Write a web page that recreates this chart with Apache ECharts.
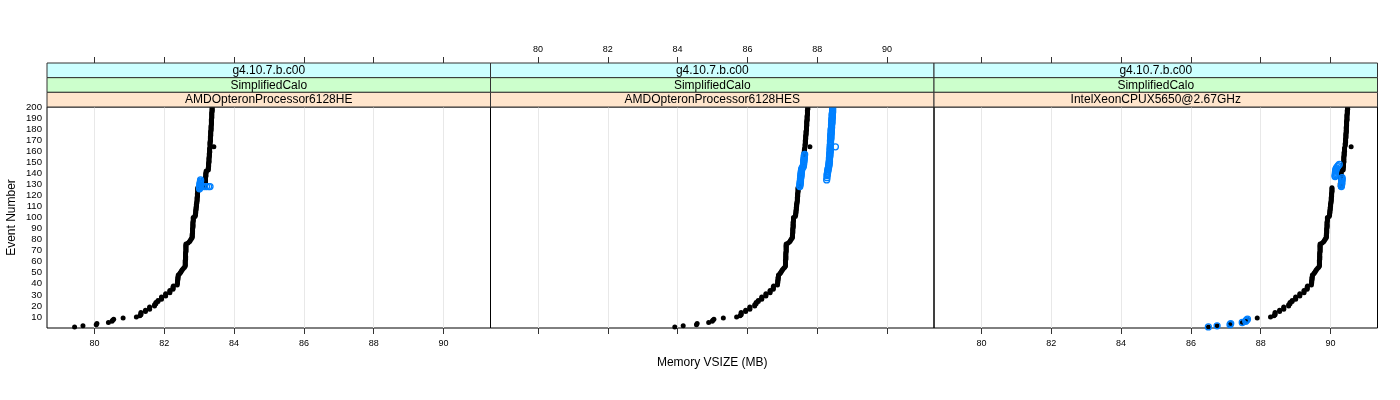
<!DOCTYPE html>
<html><head><meta charset="utf-8">
<script src="https://cdn.jsdelivr.net/npm/echarts@6/dist/echarts.min.js"></script>
<style>html,body{margin:0;padding:0;background:#fff}#c{width:1400px;height:400px}</style>
</head><body><div id="c"></div>
<script>
// ---------------- data ----------------
const stripOuter = ['g4.10.7.b.c00', 'g4.10.7.b.c00', 'g4.10.7.b.c00'];
const stripMiddle = ['SimplifiedCalo', 'SimplifiedCalo', 'SimplifiedCalo'];
const stripInner = ['AMDOpteronProcessor6128HE', 'AMDOpteronProcessor6128HES', 'IntelXeonCPUX5650@2.67GHz'];
const xTicks = [80, 82, 84, 86, 88, 90];
const yTicks = [10,20,30,40,50,60,70,80,90,100,110,120,130,140,150,160,170,180,190,200];
const xTitle = 'Memory VSIZE (MB)';
const yTitle = 'Event Number';

// memory VSIZE (MB) of the black series for events 1..200, one list per panel
const blackHE = [
 79.43,79.67,80.05,80.07,80.40,80.50,80.52,80.55,80.82,81.20,
 81.30,81.33,81.33,81.33,81.46,81.46,81.58,81.58,81.58,81.72,
 81.72,81.76,81.76,81.82,81.82,81.92,81.92,81.92,82.04,82.04,
 82.04,82.16,82.16,82.16,82.25,82.25,82.25,82.26,82.37,82.37,
 82.38,82.38,82.38,82.39,82.39,82.39,82.40,82.40,82.44,82.46,
 82.48,82.50,82.52,82.55,82.58,82.60,82.60,82.60,82.60,82.60,
 82.60,82.61,82.61,82.61,82.61,82.61,82.61,82.61,82.62,82.62,
 82.62,82.62,82.62,82.62,82.62,82.62,82.68,82.72,82.74,82.76,
 82.78,82.80,82.80,82.80,82.80,82.81,82.81,82.81,82.81,82.81,
 82.82,82.82,82.82,82.82,82.82,82.82,82.83,82.83,82.83,82.83,
 82.88,82.89,82.89,82.90,82.90,82.90,82.91,82.91,82.91,82.92,
 82.92,82.92,82.93,82.93,82.94,82.94,82.94,82.94,82.95,82.95,
 82.95,82.95,82.96,82.96,82.96,82.96,82.96,83.17,83.17,83.17,
 83.17,83.18,83.18,83.18,83.18,83.18,83.19,83.19,83.19,83.19,
 83.20,83.20,83.26,83.26,83.26,83.27,83.27,83.27,83.27,83.28,
 83.28,83.28,83.28,83.28,83.29,83.29,83.29,83.29,83.30,83.30,
 83.30,83.30,83.30,83.42,83.31,83.31,83.31,83.31,83.32,83.32,
 83.32,83.32,83.32,83.33,83.33,83.33,83.33,83.33,83.34,83.34,
 83.34,83.34,83.34,83.35,83.35,83.35,83.35,83.35,83.35,83.36,
 83.36,83.36,83.36,83.36,83.36,83.37,83.37,83.37,83.37,83.37
];
const blackHES = [
 83.92,84.16,84.54,84.56,84.89,84.99,85.01,85.04,85.31,85.69,
 85.79,85.82,85.82,85.82,85.95,85.95,86.07,86.07,86.07,86.21,
 86.21,86.25,86.25,86.31,86.31,86.41,86.41,86.41,86.53,86.53,
 86.53,86.65,86.65,86.65,86.74,86.74,86.74,86.75,86.86,86.86,
 86.87,86.87,86.87,86.88,86.88,86.88,86.89,86.89,86.93,86.95,
 86.97,86.99,87.01,87.04,87.07,87.09,87.09,87.09,87.09,87.09,
 87.09,87.10,87.10,87.10,87.10,87.10,87.10,87.10,87.11,87.11,
 87.11,87.11,87.11,87.11,87.11,87.11,87.17,87.21,87.23,87.25,
 87.27,87.29,87.29,87.29,87.29,87.30,87.30,87.30,87.30,87.30,
 87.31,87.31,87.31,87.31,87.31,87.31,87.32,87.32,87.32,87.32,
 87.37,87.38,87.38,87.39,87.39,87.39,87.40,87.40,87.40,87.41,
 87.41,87.41,87.42,87.42,87.43,87.43,87.43,87.43,87.44,87.44,
 87.44,87.44,87.45,87.45,87.45,87.45,87.45,87.52,87.52,87.52,
 87.52,87.53,87.53,87.53,87.53,87.54,87.54,87.54,87.54,87.55,
 87.55,87.55,87.56,87.58,87.58,87.59,87.59,87.59,87.60,87.60,
 87.60,87.60,87.61,87.61,87.61,87.61,87.62,87.62,87.63,87.63,
 87.63,87.64,87.64,87.79,87.65,87.65,87.66,87.66,87.66,87.66,
 87.67,87.67,87.67,87.67,87.68,87.68,87.68,87.68,87.69,87.69,
 87.69,87.69,87.70,87.70,87.70,87.70,87.70,87.71,87.71,87.71,
 87.71,87.71,87.72,87.72,87.72,87.72,87.72,87.73,87.73,87.73
];
const blackXeon = [
 86.50,86.75,87.12,87.14,87.47,87.57,87.59,87.62,87.90,88.28,
 88.38,88.41,88.41,88.41,88.54,88.54,88.66,88.66,88.66,88.80,
 88.80,88.84,88.84,88.90,88.90,89.00,89.00,89.00,89.12,89.12,
 89.12,89.24,89.24,89.24,89.33,89.33,89.33,89.34,89.45,89.45,
 89.46,89.46,89.46,89.47,89.47,89.47,89.48,89.48,89.52,89.54,
 89.56,89.58,89.60,89.63,89.66,89.68,89.68,89.68,89.68,89.68,
 89.68,89.69,89.69,89.69,89.69,89.69,89.69,89.69,89.70,89.70,
 89.70,89.70,89.70,89.70,89.70,89.70,89.76,89.80,89.82,89.84,
 89.86,89.88,89.88,89.88,89.88,89.89,89.89,89.89,89.89,89.89,
 89.90,89.90,89.90,89.90,89.90,89.90,89.91,89.91,89.91,89.91,
 89.96,89.97,89.97,89.98,89.98,89.98,89.99,89.99,89.99,90.00,
 90.00,90.00,90.01,90.01,90.02,90.02,90.02,90.02,90.03,90.03,
 90.03,90.03,90.04,90.04,90.04,90.04,90.04,90.28,90.28,90.28,
 90.28,90.29,90.29,90.29,90.29,90.29,90.30,90.30,90.30,90.30,
 90.30,90.31,90.36,90.36,90.36,90.37,90.37,90.37,90.37,90.38,
 90.38,90.38,90.38,90.38,90.38,90.39,90.39,90.39,90.39,90.40,
 90.40,90.40,90.40,90.59,90.42,90.42,90.42,90.43,90.43,90.43,
 90.43,90.44,90.44,90.44,90.44,90.44,90.45,90.45,90.45,90.45,
 90.45,90.45,90.46,90.46,90.46,90.46,90.46,90.47,90.47,90.47,
 90.47,90.47,90.47,90.48,90.48,90.48,90.48,90.49,90.49,90.49
];

// blue series: [memory MB, event number] pairs, one list per panel
const blueHE = [
 [83.01,126],[83.01,127],[83.02,128],[83.02,129],[83.02,130],[83.03,131],[83.03,132],[83.04,133],[83.04,134],
 [83.09,128],[83.15,128],[83.21,128],[83.27,128],[83.31,128]
];
const blueHES = [
 [87.50,128],[87.50,129],[87.51,130],[87.51,131],[87.51,132],[87.52,133],[87.52,134],[87.52,135],[87.53,136],[87.53,137],
 [87.53,138],[87.54,139],[87.54,140],[87.54,141],[87.55,142],[87.55,143],[87.56,144],[87.57,145],[87.60,146],[87.60,147],
 [87.61,148],[87.61,149],[87.61,150],[87.62,151],[87.62,152],[87.62,153],[87.63,154],[87.63,155],[87.63,156],[87.64,157],
 [88.27,134],[88.28,136],[88.28,138],[88.29,139],[88.29,140],[88.30,141],[88.30,142],[88.31,143],[88.31,144],[88.32,145],
 [88.33,146],[88.33,147],[88.34,148],[88.34,149],[88.34,150],[88.35,151],[88.35,152],[88.35,153],[88.35,154],[88.36,155],
 [88.36,156],[88.36,157],[88.36,158],[88.37,159],[88.37,160],[88.37,161],[88.37,162],[88.37,163],[88.52,164],[88.37,165],
 [88.38,166],[88.38,167],[88.38,168],[88.38,169],[88.38,170],[88.39,171],[88.39,172],[88.39,173],[88.39,174],[88.39,175],
 [88.40,176],[88.40,177],[88.40,178],[88.40,179],[88.40,180],[88.41,181],[88.41,182],[88.41,183],[88.41,184],[88.42,185],
 [88.42,186],[88.42,187],[88.42,188],[88.42,189],[88.43,190],[88.43,191],[88.43,192],[88.43,193],[88.43,194],[88.44,195],
 [88.44,196],[88.44,197],[88.44,198],[88.44,199],[88.44,200]
];
const blueXeon = [
 [86.50,1],[86.75,2],[87.12,3],[87.14,4],[87.47,5],[87.57,6],[87.59,7],[87.62,8],
 [90.31,128],[90.31,129],[90.32,130],[90.32,131],[90.32,132],[90.32,133],[90.33,134],[90.33,135],[90.33,136],
 [90.13,137],[90.13,138],[90.14,139],[90.14,140],[90.14,141],[90.15,142],[90.15,143],[90.16,144],[90.17,145],
 [90.20,146],[90.22,147],[90.25,148]
];

const blackByPanel = [blackHE, blackHES, blackXeon];
const blueByPanel = [blueHE, blueHES, blueXeon];

// ---------------- layout & style ----------------
const FONT = '"Liberation Sans", Helvetica, Arial, sans-serif';
const X_MIN = 78.64, X_MAX = 91.345;
const panelLeft = [47, 490.5, 934];
const panelW = 443.5;
const panelTop = 107, panelH = 221;
const stripTop = 63, stripH = (panelTop - stripTop) / 3;
const stripColors = ['#ccffff', '#ccffcc', '#ffe5cc'];
const stripTexts = [stripOuter, stripMiddle, stripInner];

const chart = echarts.init(document.getElementById('c'), null, {renderer: 'canvas'});

const grids = [], xAxes = [], yAxes = [], series = [], graphics = [];
for (let i = 0; i < 3; i++) {
  grids.push({left: panelLeft[i], top: panelTop, width: panelW, height: panelH,
    show: true, borderColor: '#000', borderWidth: 1, backgroundColor: 'transparent',
    containLabel: false, outerBoundsMode: 'none'});
}
function xAxis(i, pos, showLabel) {
  return {
    type: 'value', gridIndex: i, position: pos, min: X_MIN, max: X_MAX,
    offset: pos === 'top' ? (panelTop - stripTop) : 0,
    axisLine: {show: false},
    axisTick: {show: true, inside: false, length: 6, customValues: xTicks, lineStyle: {color: '#333', width: 1}},
    axisLabel: {show: showLabel, customValues: xTicks, fontSize: 9, color: '#000', fontFamily: FONT, margin: pos === 'top' ? 9 : 11},
    splitLine: {show: pos === 'bottom', lineStyle: {color: '#e8e8e8', width: 1}}
  };
}
// bottom axes 0..2, top axes 3..5 (labels alternate as in lattice)
xAxes.push(xAxis(0, 'bottom', true), xAxis(1, 'bottom', false), xAxis(2, 'bottom', true));
xAxes.push(xAxis(0, 'top', false), xAxis(1, 'top', true), xAxis(2, 'top', false));
for (let i = 0; i < 3; i++) {
  yAxes.push({
    type: 'value', gridIndex: i, min: 0, max: 200,
    axisLine: {show: false}, axisTick: {show: false}, splitLine: {show: false},
    axisLabel: {show: i === 0, customValues: yTicks, fontSize: 9.6, color: '#000', fontFamily: FONT, margin: 5}
  });
}
for (let i = 0; i < 3; i++) {
  series.push({
    type: 'scatter', xAxisIndex: i, yAxisIndex: i, symbol: 'circle', symbolSize: 5,
    itemStyle: {color: '#000', opacity: 1}, silent: true, z: 2,
    data: blackByPanel[i].map((m, k) => [m, k + 1])
  });
  series.push({
    type: 'scatter', xAxisIndex: i, yAxisIndex: i, symbol: 'circle', symbolSize: 6,
    itemStyle: {color: 'rgba(0,0,0,0)', borderColor: '#0080ff', borderWidth: 1.3, opacity: 1}, silent: true, z: 3,
    data: blueByPanel[i]
  });
  for (let s = 0; s < 3; s++) {
    const y0 = stripTop + s * stripH;
    graphics.push({type: 'rect', shape: {x: panelLeft[i], y: y0, width: panelW, height: stripH},
      style: {fill: stripColors[s], stroke: '#333', lineWidth: 1}, z: 10});
    graphics.push({type: 'text', x: panelLeft[i] + panelW / 2, y: y0 + stripH / 2 + 0.5,
      style: {text: stripTexts[s][i], fill: '#000', font: '12px ' + FONT, textAlign: 'center', textVerticalAlign: 'middle'}, z: 11});
  }
}
graphics.push({type: 'text', x: 12, y: panelTop + panelH / 2, rotation: Math.PI / 2,
  style: {text: yTitle, fill: '#000', font: '12px ' + FONT, textAlign: 'center', textVerticalAlign: 'middle'}});
graphics.push({type: 'text', x: (panelLeft[0] + panelLeft[2] + panelW) / 2, y: 363,
  style: {text: xTitle, fill: '#000', font: '12px ' + FONT, textAlign: 'center', textVerticalAlign: 'middle'}});

chart.setOption({
  animation: false,
  backgroundColor: '#fff',
  textStyle: {fontFamily: FONT},
  grid: grids, xAxis: xAxes, yAxis: yAxes, series: series, graphic: graphics
});
</script></body></html>
